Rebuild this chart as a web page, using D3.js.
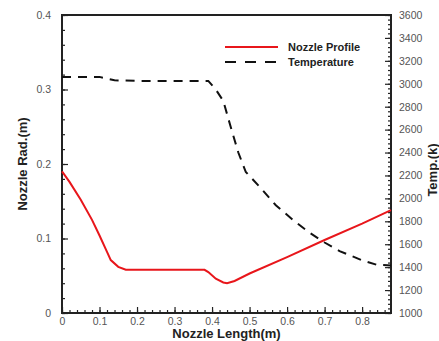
<!DOCTYPE html>
<html>
<head>
<meta charset="utf-8">
<script src="https://cdn.jsdelivr.net/npm/d3@7"></script>
<style>
  body { margin: 0; background: #fff; }
  svg { display: block; font-family: "Liberation Sans", Arial, sans-serif; }
</style>
</head>
<body>
<div id="chart"></div>
<script>
// nozzle radius profile (m) vs length (m)
const profileX = [0, 0.02, 0.05, 0.08, 0.10, 0.12, 0.13, 0.15, 0.17, 0.38, 0.39, 0.41, 0.43, 0.44, 0.46, 0.50, 0.60, 0.70, 0.80, 0.877];
const profileR = [0.19, 0.176, 0.152, 0.125, 0.104, 0.082, 0.071, 0.062, 0.058, 0.058, 0.055, 0.046, 0.041, 0.040, 0.043, 0.053, 0.075, 0.098, 0.120, 0.138];

// temperature (K) vs length (m)
const tempX = [0, 0.10, 0.14, 0.20, 0.39, 0.41, 0.43, 0.45, 0.47, 0.49, 0.53, 0.57, 0.62, 0.66, 0.70, 0.74, 0.77, 0.80, 0.84, 0.877];
const tempT = [3060, 3060, 3030, 3025, 3025, 2950, 2850, 2620, 2400, 2230, 2090, 1940, 1800, 1700, 1615, 1540, 1500, 1460, 1420, 1415];

const xTicks = [0, 0.1, 0.2, 0.3, 0.4, 0.5, 0.6, 0.7, 0.8];
const rTicks = [0, 0.1, 0.2, 0.3, 0.4];
const tTicks = d3.range(1000, 3601, 200);

const legendLabels = ['Nozzle Profile', 'Temperature'];

const W = 439, H = 341;
const margin = { top: 15, right: 48, bottom: 28, left: 62 };
const width = W - margin.left - margin.right;
const height = H - margin.top - margin.bottom;

const svg = d3.select('#chart').append('svg')
  .attr('width', W).attr('height', H);
const g = svg.append('g')
  .attr('transform', `translate(${margin.left},${margin.top})`);

const x = d3.scaleLinear().domain([0, 0.877]).range([0, width]);
const yR = d3.scaleLinear().domain([0, 0.4]).range([height, 0]);
const yT = d3.scaleLinear().domain([1000, 3600]).range([height, 0]);

const axisColor = '#222';
const labelColor = '#555';

// inward ticks, Tecplot style
function styleAxis(sel) {
  sel.select('.domain').remove();
  sel.selectAll('line').attr('stroke', axisColor).attr('stroke-width', 1.2);
  sel.selectAll('text').style('font-size', '10.5px').attr('fill', labelColor);
}

const fmt1 = d => d === 0 ? '0' : d3.format('.1f')(d);

// x axis
g.append('g').attr('transform', `translate(0,${height})`)
  .call(d3.axisBottom(x).tickValues(d3.range(0, 0.877, 0.02)).tickSize(-3).tickFormat(''))
  .call(styleAxis);
g.append('g').attr('transform', `translate(0,${height})`)
  .call(d3.axisBottom(x).tickValues(xTicks).tickSize(-6).tickPadding(5).tickFormat(fmt1))
  .call(styleAxis);

// left axis
g.append('g')
  .call(d3.axisLeft(yR).tickValues(d3.range(0, 0.401, 0.02)).tickSize(-3).tickFormat(''))
  .call(styleAxis);
g.append('g')
  .call(d3.axisLeft(yR).tickValues(rTicks).tickSize(-6).tickPadding(11).tickFormat(fmt1))
  .call(styleAxis);

// right axis
g.append('g').attr('transform', `translate(${width},0)`)
  .call(d3.axisRight(yT).tickValues(d3.range(1000, 3601, 40)).tickSize(-3).tickFormat(''))
  .call(styleAxis);
g.append('g').attr('transform', `translate(${width},0)`)
  .call(d3.axisRight(yT).tickValues(tTicks).tickSize(-6).tickPadding(8).tickFormat(d3.format('d')))
  .call(styleAxis);

// frame
g.append('rect')
  .attr('width', width).attr('height', height)
  .attr('fill', 'none').attr('stroke', axisColor).attr('stroke-width', 2);

// temperature line
const tempData = tempX.map((v, i) => [v, tempT[i]]);
g.append('path')
  .datum(tempData)
  .attr('fill', 'none')
  .attr('stroke', '#111')
  .attr('stroke-width', 2)
  .attr('stroke-dasharray', '9,7')
  .attr('d', d3.line().x(d => x(d[0])).y(d => yT(d[1])));

// nozzle profile line
const profData = profileX.map((v, i) => [v, profileR[i]]);
g.append('path')
  .datum(profData)
  .attr('fill', 'none')
  .attr('stroke', '#e8161b')
  .attr('stroke-width', 2)
  .attr('d', d3.line().x(d => x(d[0])).y(d => yR(d[1])));

// legend
const legend = svg.append('g').attr('transform', 'translate(225,47)');
const legItems = legend.selectAll('g').data(legendLabels).enter().append('g')
  .attr('transform', (d, i) => `translate(0,${i * 15})`);
legItems.append('line')
  .attr('x1', 0).attr('x2', 53)
  .attr('stroke', (d, i) => i === 0 ? '#e8161b' : '#111')
  .attr('stroke-width', 2)
  .attr('stroke-dasharray', (d, i) => i === 0 ? null : '11,9');
legItems.append('text')
  .attr('x', 63).attr('y', 4)
  .style('font-size', '11px').style('font-weight', 'bold')
  .attr('fill', '#222')
  .text(d => d);

// axis titles
svg.append('text')
  .attr('x', margin.left + width / 2).attr('y', H - 3)
  .attr('text-anchor', 'middle')
  .style('font-size', '13px').style('font-weight', 'bold').attr('fill', '#222')
  .text('Nozzle Length(m)');

svg.append('text')
  .attr('transform', `translate(27,${margin.top + height / 2}) rotate(-90)`)
  .attr('text-anchor', 'middle')
  .style('font-size', '13px').style('font-weight', 'bold').attr('fill', '#222')
  .text('Nozzle Rad.(m)');

svg.append('text')
  .attr('transform', `translate(437,170) rotate(-90)`)
  .attr('text-anchor', 'middle')
  .style('font-size', '13px').style('font-weight', 'bold').attr('fill', '#222')
  .text('Temp.(k)');
</script>
</body>
</html>
